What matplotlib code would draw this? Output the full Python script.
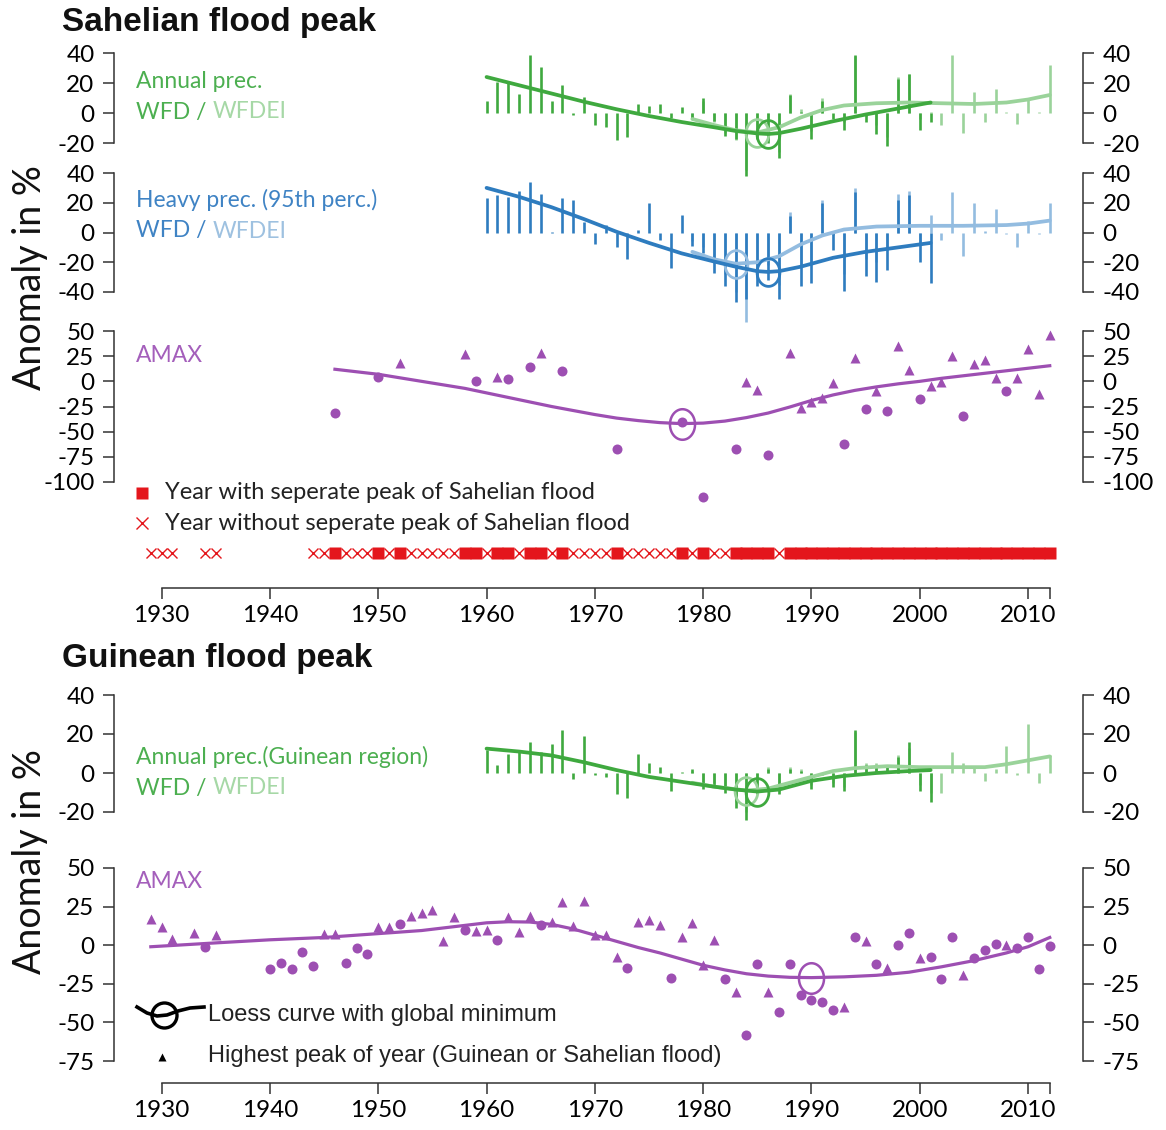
import numpy as np
import matplotlib
matplotlib.use("Agg")
import matplotlib.pyplot as plt
from matplotlib.path import Path
from matplotlib.lines import Line2D

plt.rcParams['axes.unicode_minus'] = False

# ---------------- Sahelian region ----------------
years_wfd = list(range(1960, 2002))
years_wfdei = list(range(1979, 2013))

sah_ann_wfd = [8, 21, 20, 13, 39, 31, 8, 19, -1, 11,
               -8, -9, -18, -16, 6, 5, 6, -3, 4, -4,
               10, -5, -15, -17, -42, -17, -20, -30, 12, 1,
               -17, 8, -4, -11, 39, -6, -14, -22, 23, 26,
               -11, -6]
sah_ann_wfdei = [-3, 8, -6, -13, -18, -38, -15, -18, -26, 13, 3,
                 -12, 10, 0, -6, 38, -2, -8, -16, 24, 26,
                 -4, 1, -8, 39, -13, 14, -6, 16, 1, -7, 9, 1, 32]
sah_ann_loess_wfd_x = [1960, 1963, 1966, 1969, 1972, 1975, 1978, 1981, 1983, 1985, 1986, 1987, 1989, 1992, 1995, 1998, 2001]
sah_ann_loess_wfd_y = [24, 18.5, 13, 7.5, 2.5, -2, -6, -9.5, -12, -13.6, -14, -13.4, -10.5, -5.5, -1, 3, 7]
sah_ann_loess_wfdei_x = [1979, 1981, 1983, 1985, 1987, 1989, 1991, 1993, 1996, 1999, 2002, 2005, 2008, 2010, 2012]
sah_ann_loess_wfdei_y = [-4, -8, -11.5, -13, -9.5, -3, 2, 5, 6.5, 7, 6.5, 6, 7, 9, 12]

sah_heavy_wfd = [23, 25, 24, 28, 34, 26, 0.5, 23, 22, 7,
                 -8, 5, -10, -18, 2, 20, -5, -24, 12, -9,
                 -14, -27, -36, -47, -45, -36, -32, -45, 11, -36,
                 -34, 20, -12, -39, 27, -29, -33, -25, 22, 25,
                 -20, -34]
sah_heavy_wfdei = [-6, -10, -20, -28, -40, -60, -30, -22, -35, 14, -22,
                   -20, 22, -2, -28, 30, -18, -20, -12, 26, 28,
                   -8, 12, -5, 27, -16, 20, 1, 16, -1, -10, 8, -1, 20]
sah_heavy_loess_wfd_x = [1960, 1963, 1966, 1969, 1972, 1975, 1978, 1981, 1983, 1985, 1986, 1987, 1989, 1992, 1995, 1998, 2001]
sah_heavy_loess_wfd_y = [30, 24, 17, 9, 0.5, -7, -14, -19.5, -23, -26, -26.5, -26, -23, -17, -13, -10, -7]
sah_heavy_loess_wfdei_x = [1979, 1981, 1983, 1985, 1987, 1989, 1991, 1993, 1996, 2000, 2004, 2008, 2010, 2012]
sah_heavy_loess_wfdei_y = [-13, -18, -21, -20, -16, -8, -2, 2, 4, 4.5, 4.5, 5, 6, 8]

sah_amax_years = [1946, 1950, 1952, 1958, 1959, 1961, 1962, 1964, 1965, 1967,
                  1972, 1978, 1980, 1983, 1984, 1985, 1986, 1988, 1989, 1990,
                  1991, 1992, 1993, 1994, 1995, 1996, 1997, 1998, 1999, 2000,
                  2001, 2002, 2003, 2004, 2005, 2006, 2007, 2008, 2009, 2010,
                  2011, 2012]
sah_amax_vals = [-31, 4, 18, 27, 0, 4, 2, 14, 28, 10,
                 -67, -40, -115, -67, -1, -9, -73, 28, -26, -21,
                 -17, -2, -62, 23, -27, -10, -29, 35, 11, -18,
                 -5, -1, 25, -34, 17, 21, 3, -10, 3, 32,
                 -13, 46]
# 1 = highest peak of the year (triangle), 0 = other peak (dot)
sah_amax_highest = [0, 0, 1, 1, 0, 1, 0, 0, 1, 0,
                    0, 0, 0, 0, 1, 1, 0, 1, 1, 1,
                    1, 1, 0, 1, 0, 1, 0, 1, 1, 0,
                    1, 1, 1, 0, 1, 1, 1, 0, 1, 1,
                    1, 1]
sah_amax_loess_x = [1946, 1948, 1950, 1952, 1954, 1956, 1958, 1960, 1962, 1964,
                    1966, 1968, 1970, 1972, 1974, 1976, 1978, 1980, 1982, 1984,
                    1986, 1988, 1990, 1992, 1994, 1996, 1998, 2000, 2002, 2004,
                    2006, 2008, 2010, 2012]
sah_amax_loess_y = [12, 9.5, 7, 3.5, 0, -3.5, -7, -11.5, -16, -20.5,
                    -25, -29, -33, -36.5, -39, -41, -42, -41.5, -39.5, -36,
                    -31.5, -25.5, -19, -13.5, -9, -5.5, -2.5, 0, 3, 5.5,
                    8, 10.5, 13, 15.5]

# gauge years; a year has a separate Sahelian peak when it appears in sah_amax_years
gauge_years = [1929, 1930, 1931, 1934, 1935] + list(range(1944, 2013))

# ---------------- Guinean region ----------------
gui_ann_wfd = [12, 4, 10, 11, 16, 11, 15, 22, -3, 19,
               -1, -2, -11, -13, 10, 5, 3, -9, 0.5, 2,
               -8, -6, -10, -18, -24, -11, 2, -11, 2, 1,
               -8, -1, -7, -9, 22, 4, 4, 3, 8, 16,
               -9, -15]
gui_ann_wfdei = [1, -6, -5, -8, -15, -20, -10, 3, -9, 3, 2,
                 -6, 0, -5, -7, 21, 5, 5, 4, 9, 13,
                 -6, -10, -10, 11, 5, 3, -4, 2, 14, -1, 25, -5, 9]
gui_ann_loess_wfd_x = [1960, 1963, 1966, 1969, 1972, 1975, 1978, 1981, 1983, 1985, 1987, 1990, 1993, 1996, 1999, 2001]
gui_ann_loess_wfd_y = [12.5, 11, 9, 5.5, 1.5, -2, -4.5, -7, -8.5, -9.5, -8.5, -4, -1.5, 0, 1, 1.5]
gui_ann_loess_wfdei_x = [1979, 1981, 1984, 1986, 1988, 1990, 1992, 1994, 1997, 2000, 2003, 2006, 2008, 2010, 2012]
gui_ann_loess_wfdei_y = [-5, -7, -9, -8, -5, -2, 1, 2.5, 3.5, 3, 3, 3, 4.5, 6.5, 8.5]

gui_amax_years = [1929, 1930, 1931, 1933, 1934, 1935] + list(range(1940, 2013))
gui_amax_vals = [17, 12, 4, 8, -1, 6.5,
                 -15.5, -11.5, -15.5, -4.5, -13.5, 7, 7, -11.7, -1.5, -6,
                 11.6, 11.6, 13.6, 18.8, 20.7, 22.7, 2.6, 18, 9.7, 9,
                 9.7, 3.2, 18, 8.6, 19, 13, 15, 28, 12.5, 28.7,
                 6.5, 6.5, -7.6, -15, 15, 16, 13, -21, 5.4, 14.5,
                 -13, 3.2, -21.6, -30, -58, -12, -30, -43, -12, -32,
                 -35.6, -36.7, -42, -40, 5, 3, -12, -14.7, 0.4, 8,
                 -8.2, -7.6, -21.6, 5, -19.4, -8, -2.8, 1, 0.4, -1.5,
                 5, -15.5, -0.6]
gui_amax_highest = [1, 1, 1, 1, 0, 1,
                    0, 0, 0, 0, 0, 1, 1, 0, 0, 0,
                    1, 1, 0, 1, 1, 1, 1, 1, 0, 1,
                    1, 0, 1, 1, 1, 0, 1, 1, 1, 1,
                    1, 1, 1, 0, 1, 1, 1, 0, 1, 1,
                    1, 1, 0, 1, 0, 0, 1, 0, 0, 0,
                    0, 0, 0, 1, 0, 1, 0, 1, 0, 0,
                    1, 0, 0, 0, 1, 0, 0, 0, 1, 0,
                    0, 0, 0]
gui_amax_loess_x = [1929, 1935, 1940, 1945, 1950, 1954, 1957, 1960, 1962, 1964, 1966, 1968, 1970, 1972, 1974, 1976, 1978, 1980, 1982, 1984, 1986, 1988, 1990, 1993, 1996, 1999, 2002, 2005, 2008, 2010, 2012]
gui_amax_loess_y = [-1, 1.5, 3.5, 5, 7.5, 9.5, 12, 14.5, 15.2, 15, 13.5, 10.5, 6.5, 2.5, -1.5, -5, -9, -13, -16, -18.5, -20, -20.8, -21, -20.5, -19.5, -17.5, -14, -10, -5, -1, 5]

xtick_years = [1930, 1940, 1950, 1960, 1970, 1980, 1990, 2000, 2010, 2012]

# ---------------- styling ----------------
GREEN = '#3fa93f'
GREEN_L = '#9ad39a'
GREEN_TXT = '#4caf50'
GREEN_TXT_L = '#a6d8a6'
BLUE = '#2e7cbf'
BLUE_L = '#93bce0'
BLUE_TXT = '#3f83c4'
BLUE_TXT_L = '#9ec1e0'
PURPLE = '#9d4fb2'
PURPLE_TXT = '#a45fbb'
RED = '#e4161c'
AXC = '#333333'

TICK_FONT = 'Lato'
LABEL_FONT = 'Lato'
ARIAL = 'Liberation Sans'
TS = 17.5
LS = 16.5

W, H = 1166, 1130
fig = plt.figure(figsize=(W / 100, H / 100), dpi=100)
X0, X1 = 1925.6, 2015.07


def px_axes(top, bottom, left=114, right=1083):
    return fig.add_axes([left / W, 1 - bottom / H, (right - left) / W, (bottom - top) / H])


def fx(x):
    return x / W


def fy(y):
    return 1 - y / H


ell_t = np.linspace(0, 2 * np.pi, 64)
ELLIPSE = Path(np.column_stack([0.82 * np.cos(ell_t), np.sin(ell_t)]))


def style_y(ax, ticks):
    ax.set_xlim(X0, X1)
    ax.set_ylim(ticks[0], ticks[-1])
    ax.patch.set_visible(False)
    for s in ['top', 'bottom']:
        ax.spines[s].set_visible(False)
    for s in ['left', 'right']:
        ax.spines[s].set_color(AXC)
        ax.spines[s].set_linewidth(1.1)
    ax.set_xticks([])
    ax.set_yticks(ticks)
    ax.set_yticklabels([str(t) for t in ticks], fontfamily=TICK_FONT, fontsize=TS)
    ax.tick_params(axis='y', left=True, right=True, labelleft=True, labelright=True,
                   direction='out', length=8, width=1.1, color=AXC, pad=6)


def style_x(ax, offset_pt=0):
    ax.spines['bottom'].set_visible(True)
    ax.spines['bottom'].set_color(AXC)
    ax.spines['bottom'].set_linewidth(1.1)
    ax.spines['bottom'].set_bounds(xtick_years[0], xtick_years[-1])
    if offset_pt:
        ax.spines['bottom'].set_position(('outward', offset_pt))
    ax.set_xticks(xtick_years)
    ax.set_xticklabels([str(y) if y % 10 == 0 else '' for y in xtick_years],
                       fontfamily=TICK_FONT, fontsize=TS)
    ax.tick_params(axis='x', bottom=True, direction='out', length=8, width=1.1,
                   color=AXC, pad=4)


def precip_panel(ax, v_wfd, v_wfdei, lx_d, ly_d, lx_l, ly_l, dark, light):
    ax.vlines(years_wfdei, 0, v_wfdei, colors=light, lw=1.9, zorder=1, clip_on=False)
    ax.vlines(years_wfd, 0, v_wfd, colors=dark, lw=1.9, zorder=2, clip_on=False)
    ax.plot(lx_l, ly_l, color=light, lw=2.7, zorder=3, clip_on=False,
            solid_capstyle='round')
    ax.plot(lx_d, ly_d, color=dark, lw=2.7, zorder=4, clip_on=False,
            solid_capstyle='round')
    i = int(np.argmin(ly_l))
    ax.plot([lx_l[i]], [ly_l[i]], marker=ELLIPSE, ms=20, mfc='none', mec=light,
            mew=2.0, zorder=3, clip_on=False)
    i = int(np.argmin(ly_d))
    ax.plot([lx_d[i]], [ly_d[i]], marker=ELLIPSE, ms=20, mfc='none', mec=dark,
            mew=2.0, zorder=5, clip_on=False)


def amax_panel(ax, yrs, vals, highest, lx, ly):
    yrs = np.array(yrs)
    vals = np.array(vals)
    hi = np.array(highest, dtype=bool)
    ax.plot(yrs[hi], vals[hi], ls='none', marker='^', ms=7.5, color=PURPLE,
            mec='none', clip_on=False, zorder=3)
    ax.plot(yrs[~hi], vals[~hi], ls='none', marker='o', ms=7.2, color=PURPLE,
            mec='none', clip_on=False, zorder=3)
    ax.plot(lx, ly, color=PURPLE, lw=2.3, zorder=2, clip_on=False)
    i = int(np.argmin(ly))
    ax.plot([lx[i]], [ly[i]], marker=ELLIPSE, ms=22, mfc='none', mec=PURPLE,
            mew=1.8, zorder=4, clip_on=False)


def two_tone(x, y, first, c1, second, c2, size=LS):
    t = fig.text(fx(x), fy(y), first, color=c1, fontsize=size, fontfamily=LABEL_FONT,
                 va='center', ha='left')
    fig.canvas.draw()
    bb = t.get_window_extent()
    fig.text(bb.x1 / W, fy(y), second, color=c2, fontsize=size, fontfamily=LABEL_FONT,
             va='center', ha='left')


# ---------------- Sahelian flood peak ----------------
ax1 = px_axes(53, 143)
style_y(ax1, [-20, 0, 20, 40])
precip_panel(ax1, sah_ann_wfd, sah_ann_wfdei,
             sah_ann_loess_wfd_x, sah_ann_loess_wfd_y,
             sah_ann_loess_wfdei_x, sah_ann_loess_wfdei_y, GREEN, GREEN_L)

ax2 = px_axes(173, 292)
style_y(ax2, [-40, -20, 0, 20, 40])
precip_panel(ax2, sah_heavy_wfd, sah_heavy_wfdei,
             sah_heavy_loess_wfd_x, sah_heavy_loess_wfd_y,
             sah_heavy_loess_wfdei_x, sah_heavy_loess_wfdei_y, BLUE, BLUE_L)

ax3 = px_axes(331, 482)
style_y(ax3, [-100, -75, -50, -25, 0, 25, 50])
amax_panel(ax3, sah_amax_years, sah_amax_vals, sah_amax_highest,
           sah_amax_loess_x, sah_amax_loess_y)

# separate-peak flags and the time axis of the upper block
ax4 = px_axes(482, 588)
ax4.set_xlim(X0, X1)
ax4.set_ylim(0, 1)
ax4.patch.set_visible(False)
for s in ['top', 'left', 'right']:
    ax4.spines[s].set_visible(False)
ax4.set_yticks([])
style_x(ax4)
sep = np.array([y in sah_amax_years for y in gauge_years])
gy = np.array(gauge_years)
row_y = (588 - 553) / (588 - 482)
ax4.plot(gy[sep], np.full(sep.sum(), row_y), ls='none', marker='s', ms=8.0,
         color=RED, mec='none', clip_on=False)
ax4.plot(gy[~sep], np.full((~sep).sum(), row_y), ls='none', marker='x', ms=7.5,
         mew=1.0, color=RED, clip_on=False)
ax4.plot([(142 - 114) / 969], [(588 - 493) / 106], transform=ax4.transAxes,
         ls='none', marker='s', ms=8, color=RED, mec='none', clip_on=False)
ax4.plot([(142 - 114) / 969], [(588 - 523) / 106], transform=ax4.transAxes,
         ls='none', marker='x', ms=8, mew=1.0, color=RED, clip_on=False)
fig.text(fx(165), fy(493), 'Year with seperate peak of Sahelian flood', fontsize=17,
         fontfamily=LABEL_FONT, color='#222222', va='center', ha='left')
fig.text(fx(165), fy(523), 'Year without seperate peak of Sahelian flood', fontsize=17,
         fontfamily=LABEL_FONT, color='#222222', va='center', ha='left')

# ---------------- Guinean flood peak ----------------
ax5 = px_axes(695, 812)
style_y(ax5, [-20, 0, 20, 40])
precip_panel(ax5, gui_ann_wfd, gui_ann_wfdei,
             gui_ann_loess_wfd_x, gui_ann_loess_wfd_y,
             gui_ann_loess_wfdei_x, gui_ann_loess_wfdei_y, GREEN, GREEN_L)

ax6 = px_axes(868, 1061)
style_y(ax6, [-75, -50, -25, 0, 25, 50])
amax_panel(ax6, gui_amax_years, gui_amax_vals, gui_amax_highest,
           gui_amax_loess_x, gui_amax_loess_y)
style_x(ax6, offset_pt=22 * 0.72)

# ---------------- titles and labels ----------------
fig.text(fx(62), fy(22), 'Sahelian flood peak', fontsize=24, fontweight='bold',
         fontfamily=ARIAL, va='center', ha='left', color='#111111')
fig.text(fx(62), fy(658), 'Guinean flood peak', fontsize=24, fontweight='bold',
         fontfamily=ARIAL, va='center', ha='left', color='#111111')
fig.text(fx(30), fy(278), 'Anomaly in %', fontsize=27, rotation=90, fontfamily=LABEL_FONT,
         va='center', ha='center', color='#111111')
fig.text(fx(30), fy(862), 'Anomaly in %', fontsize=27, rotation=90, fontfamily=LABEL_FONT,
         va='center', ha='center', color='#111111')

fig.text(fx(136), fy(82), 'Annual prec.', fontsize=LS, fontfamily=LABEL_FONT,
         color=GREEN_TXT, va='center', ha='left')
two_tone(136, 112, 'WFD / ', GREEN_TXT, 'WFDEI', GREEN_TXT_L)
fig.text(fx(136), fy(200), 'Heavy prec. (95th perc.)', fontsize=LS, fontfamily=LABEL_FONT,
         color=BLUE_TXT, va='center', ha='left')
two_tone(136, 231, 'WFD / ', BLUE_TXT, 'WFDEI', BLUE_TXT_L)
fig.text(fx(136), fy(356), 'AMAX', fontsize=LS, fontfamily=LABEL_FONT,
         color=PURPLE_TXT, va='center', ha='left')

fig.text(fx(136), fy(757), 'Annual prec.(Guinean region)', fontsize=LS,
         fontfamily=LABEL_FONT, color=GREEN_TXT, va='center', ha='left')
two_tone(136, 788, 'WFD / ', GREEN_TXT, 'WFDEI', GREEN_TXT_L)
fig.text(fx(136), fy(882), 'AMAX', fontsize=LS, fontfamily=LABEL_FONT,
         color=PURPLE_TXT, va='center', ha='left')

# legend for the lower block
glyph_x = [137, 147, 157, 167, 178, 190, 204]
glyph_y = [1007, 1013, 1016, 1015, 1011, 1008, 1007]
fig.add_artist(Line2D([fx(v) for v in glyph_x], [fy(v) for v in glyph_y],
                      color='black', lw=2.6, transform=fig.transFigure))
fig.add_artist(Line2D([fx(164)], [fy(1015)], marker='o', ms=18, mfc='none',
                      mec='black', mew=2.4, transform=fig.transFigure))
fig.add_artist(Line2D([fx(162)], [fy(1057)], marker='^', ms=6, color='black',
                      mec='none', transform=fig.transFigure))
fig.text(fx(208), fy(1015), 'Loess curve with global minimum', fontsize=17,
         fontfamily=ARIAL, va='center', ha='left', color='#222222')
fig.text(fx(208), fy(1056), 'Highest peak of year (Guinean or Sahelian flood)',
         fontsize=17, fontfamily=ARIAL, va='center', ha='left', color='#222222')

fig.savefig('out.png', dpi=100)
